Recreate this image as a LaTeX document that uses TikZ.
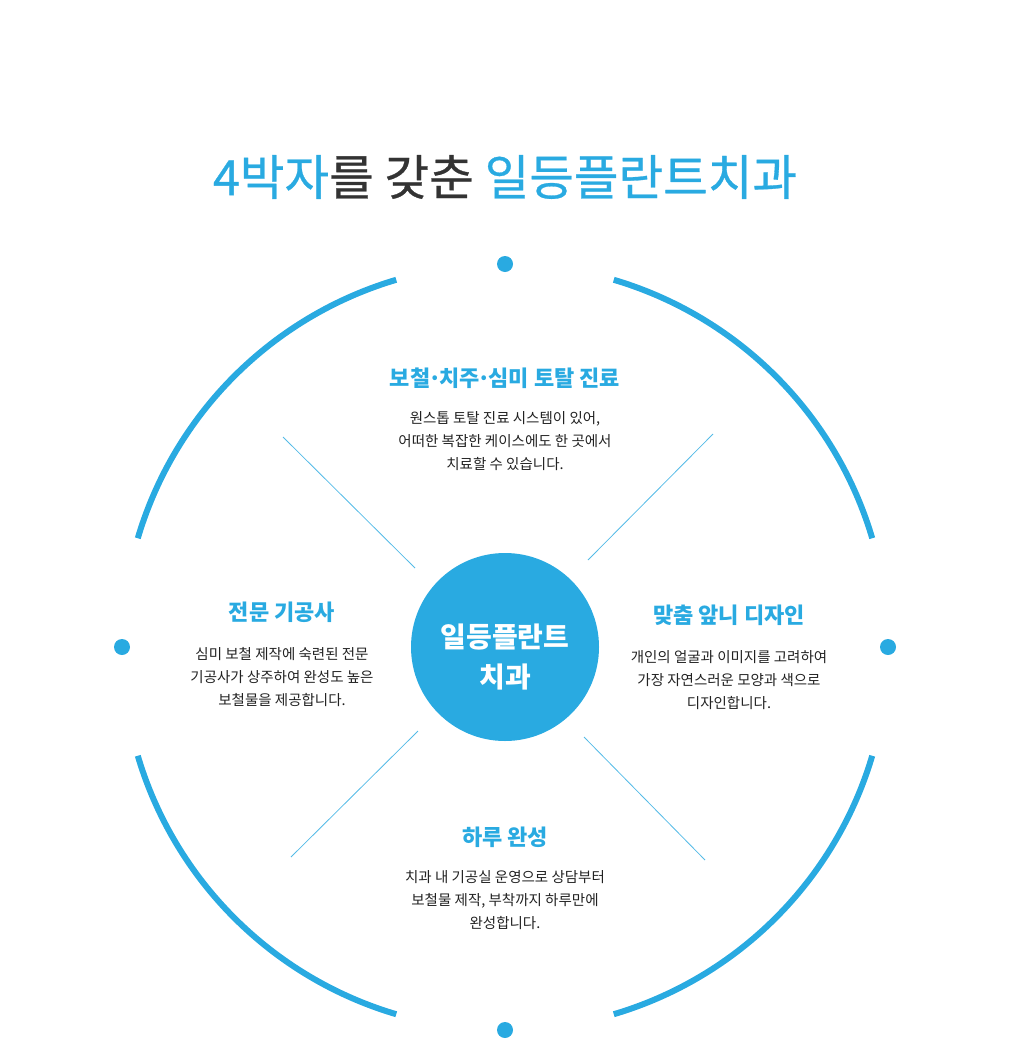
\documentclass[tikz,border=0pt]{standalone}
\usepackage{fontspec}
\setmainfont{Noto Sans CJK KR}
\usepackage{tikz}
\usetikzlibrary{positioning}

\definecolor{brandblue}{HTML}{29AAE1}
\definecolor{titlegray}{HTML}{333333}
\definecolor{bodytext}{HTML}{222222}

\newcommand{\middot}{{\kern-2.3pt}·{\kern-2.3pt}}

\begin{document}
\begin{tikzpicture}[
      x=1pt, y=-1pt,
      ring/.style={draw=brandblue, line width=6pt},
      ray/.style={draw=brandblue!80, line width=0.8pt},
      ringdot/.style={circle, fill=brandblue, inner sep=0pt, minimum size=16pt},
      heading/.style={font=\fontsize{22}{26}\selectfont\bfseries, text=brandblue, inner sep=0pt},
      body/.style={font=\fontsize{14.5}{23}\selectfont, text=bodytext, align=center, inner sep=0pt},
      hub/.style={circle, fill=brandblue, inner sep=0pt, minimum size=188pt}
    ]
      \useasboundingbox (0,0) rectangle (1010,1039);

      % Title
      \node[font=\fontsize{48.5}{52}\selectfont\addfontfeatures{FakeBold=0.6}, inner sep=0pt] (title) at (505,177)
        {\textcolor{brandblue}{4박자}\textcolor{titlegray}{를 갖춘} \textcolor{brandblue}{일등플란트치과}};

      % Centre circle
      \coordinate (mid) at (505,647);
      \node[hub] (hub) at (mid) {};
      \node[font=\fontsize{28}{40}\selectfont\bfseries, text=white, align=center, inner sep=0pt] (hub_text) at (505,657) {일등플란트\\치과};

      % Outer ring, four arcs with gaps
      \foreach \a in {0,90,180,270} {
        \draw[ring] ([shift={(\a+16.5:383)}]mid) arc[start angle=\a+16.5, end angle=\a+73.5, radius=383];
      }

      % Dots on the ring
      \node[ringdot] (dot_top) at ([yshift=-383pt]mid) {};
      \node[ringdot] (dot_bottom) at ([yshift=383pt]mid) {};
      \node[ringdot] (dot_left) at ([xshift=-383pt]mid) {};
      \node[ringdot] (dot_right) at ([xshift=383pt]mid) {};

      % Thin diagonal rays (inner end / outer end, relative to the centre)
      \foreach \ix/\iy/\ox/\oy in {-90/-79/-222/-210, 83/-87/208/-213, -87/84/-214/210, 79/90/200/213} {
        \draw[ray] ([shift={(\ix,\iy)}]mid) -- ([shift={(\ox,\oy)}]mid);
      }

      % Top: prosthetics
      \node[heading] (care_head) at (505,378) {보철\middot 치주\middot 심미 토탈 진료};
      \node[body] (care_text) at (505,441) {원스톱 토탈 진료 시스템이 있어,\\어떠한 복잡한 케이스에도 한 곳에서\\치료할 수 있습니다.};

      % Left: technician
      \node[heading] (tech_head) at (282,612) {전문 기공사};
      \node[body] (tech_text) at (282,677) {심미 보철 제작에 숙련된 전문\\기공사가 상주하여 완성도 높은\\보철물을 제공합니다.};

      % Right: design
      \node[heading] (design_head) at (729,615) {맞춤 앞니 디자인};
      \node[body] (design_text) at (729,680) {개인의 얼굴과 이미지를 고려하여\\가장 자연스러운 모양과 색으로\\디자인합니다.};

      % Bottom: one day
      \node[heading] (day_head) at (505,837) {하루 완성};
      \node[body] (day_text) at (505,900) {치과 내 기공실 운영으로 상담부터\\보철물 제작, 부착까지 하루만에\\완성합니다.};
    \end{tikzpicture}
\end{document}
